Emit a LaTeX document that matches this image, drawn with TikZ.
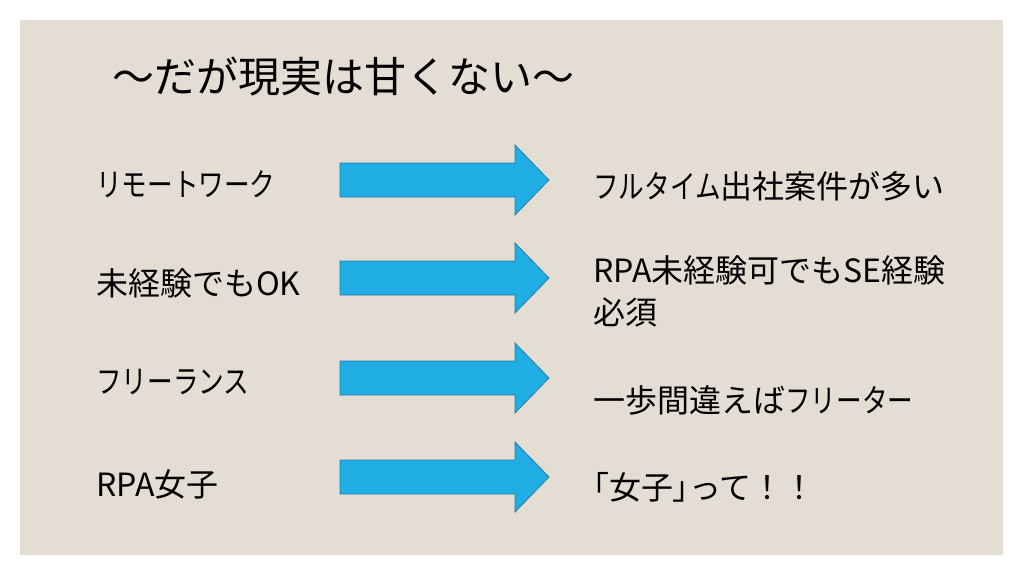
\documentclass[tikz,border=0pt]{standalone}
\usepackage{fontspec}
\setmainfont{Noto Sans CJK JP}
\newfontfamily\propfont[RawFeature=+palt]{Noto Sans CJK JP}
\newfontfamily\katafont[FakeStretch=0.8]{Noto Sans CJK JP}
\newcommand{\kt}[1]{{\katafont #1}}
\newcommand{\pp}[1]{{\propfont #1}}
\definecolor{bgbeige}{HTML}{E3DDD3}
\definecolor{arrfill}{HTML}{1FADE4}
\definecolor{arrline}{HTML}{2A7FA6}
\begin{document}
\begin{tikzpicture}[x=1pt,y=-1pt,
  bodytext/.style={anchor=west,inner sep=0pt,font=\fontsize{32}{36}\selectfont,text=black},
  bigarrow/.style={fill=arrfill,draw=arrline,line width=0.8pt,line join=miter}]
\useasboundingbox (0,0) rectangle (1024,576);
\fill[white] (0,0) rectangle (1024,576);
\fill[bgbeige] (20,20) rectangle (1003,555);
\node[anchor=west,inner sep=0pt,font=\fontsize{42}{48}\selectfont] (title) at (112,77) {～だが現実は甘くない～};
\foreach \i/\yc in {1/180,2/278,3/378,4/477}{
  \draw[bigarrow] (340,\yc-17) -- (515,\yc-17) -- (515,\yc-35) -- (549,\yc) -- (515,\yc+35) -- (515,\yc+17) -- (340,\yc+17) -- cycle;
}
\node[bodytext] (l1) at (96,184) {\kt{リモートワーク}};
\node[bodytext] (l2) at (96,283) {未経験でもOK};
\node[bodytext] (l3) at (96,382) {\kt{フリーランス}};
\node[bodytext] (l4) at (96,484) {RPA女子};
\node[bodytext] (r1) at (593,186) {\kt{フルタイム}出社案件が多い};
\node[bodytext] (r2) at (593,270) {RPA未経験可でもSE経験};
\node[bodytext] (r2b) at (593,312) {必須};
\node[bodytext] (r3) at (593,400) {一歩間違えば\kt{フリーター}};
\node[bodytext] (r4) at (593,487) {\pp{「}女子\pp{」}って！！};
\end{tikzpicture}
\end{document}
